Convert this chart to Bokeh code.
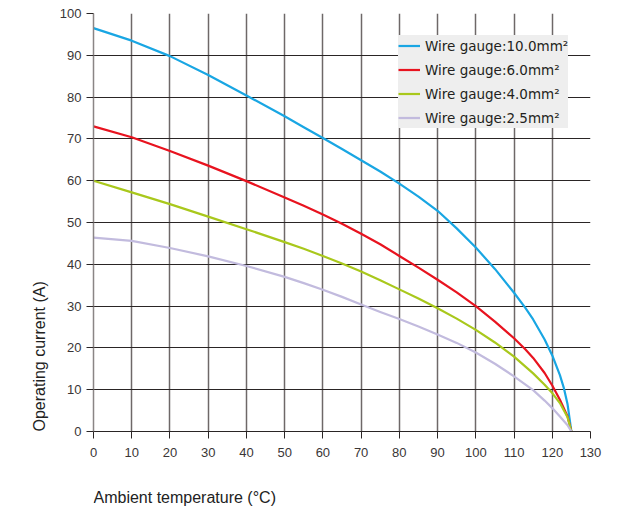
from bokeh.plotting import figure
from bokeh.models import Range1d, FixedTicker, Legend, LegendItem, Title, Label
from bokeh.layouts import column
from bokeh.embed import file_html
from bokeh.resources import INLINE

# Data
temp_10 = [0, 10, 20, 30, 40, 50, 55, 60, 65, 70, 75, 80, 85, 90, 95, 100, 105, 110, 113, 115, 118, 120, 122, 123, 124, 125]
cur_10 = [96.5, 93.5, 89.8, 85.3, 80.4, 75.4, 72.8, 70.2, 67.6, 64.9, 62.2, 59.3, 56.2, 52.8, 48.6, 44.0, 38.9, 33.2, 29.5, 26.8, 22.0, 18.2, 13.5, 10.5, 6.5, 0.0]

temp_6 = [0, 10, 20, 30, 40, 50, 55, 60, 65, 70, 75, 80, 85, 90, 95, 100, 105, 110, 113, 115, 118, 120, 122, 124, 125]
cur_6 = [73.0, 70.4, 67.1, 63.6, 59.9, 56.0, 54.0, 51.9, 49.7, 47.3, 44.8, 42.0, 39.2, 36.3, 33.3, 30.0, 26.3, 22.3, 19.6, 17.6, 14.0, 11.0, 7.6, 3.6, 0.0]

temp_4 = [0, 10, 20, 30, 40, 50, 55, 60, 65, 70, 75, 80, 85, 90, 95, 100, 105, 110, 115, 118, 120, 122, 124, 125]
cur_4 = [60.0, 57.2, 54.4, 51.4, 48.4, 45.3, 43.7, 42.0, 40.2, 38.3, 36.2, 34.0, 31.8, 29.5, 27.0, 24.3, 21.3, 17.9, 13.9, 11.2, 9.2, 6.8, 3.4, 0.0]

temp_25 = [0, 10, 20, 30, 40, 50, 55, 60, 65, 70, 75, 80, 85, 90, 95, 100, 105, 110, 115, 118, 120, 122, 124, 125]
cur_25 = [46.4, 45.6, 43.9, 41.9, 39.6, 37.0, 35.5, 33.9, 32.2, 30.4, 28.6, 26.9, 25.1, 23.2, 21.2, 18.9, 16.2, 13.2, 9.9, 7.4, 5.6, 3.6, 1.5, 0.0]

labels = ["Wire gauge:10.0mm\u00b2", "Wire gauge:6.0mm\u00b2",
          "Wire gauge:4.0mm\u00b2", "Wire gauge:2.5mm\u00b2"]
colors = ["#19a6e3", "#e8131f", "#a9c81c", "#c2bbde"]

x_ticks = list(range(0, 131, 10))
y_ticks = list(range(0, 101, 10))

x_title = "Ambient temperature (\u00b0C)"
y_title = "Operating current (A)"

FONT = "Liberation Sans"
TXT = "#3a3636"

W = 628
H_MAIN = 472
H_FOOT = 38

p = figure(width=W, height=H_MAIN, output_backend="svg", toolbar_location=None,
           x_range=Range1d(0, 130), y_range=Range1d(0, 100),
           min_border_left=93, min_border_right=W - 590, min_border_top=13,
           min_border_bottom=H_MAIN - 431)

p.outline_line_color = None
p.background_fill_color = "white"

# grids
p.xgrid.ticker = FixedTicker(ticks=x_ticks)
p.ygrid.ticker = FixedTicker(ticks=y_ticks)
p.xgrid.grid_line_color = "#6e6868"
p.xgrid.grid_line_width = 1.5
p.ygrid.grid_line_color = "#2a2525"
p.ygrid.grid_line_width = 1.0

# axes
p.xaxis.ticker = FixedTicker(ticks=x_ticks)
p.yaxis.ticker = FixedTicker(ticks=y_ticks)
for ax in (p.xaxis, p.yaxis):
    ax.major_label_text_font = FONT
    ax.major_label_text_font_size = "13px"
    ax.major_label_text_color = TXT
    ax.major_tick_in = 0
    ax.major_tick_out = 7
    ax.major_tick_line_color = "#2a2525"
    ax.minor_tick_line_color = None
p.xaxis.axis_line_color = "#2a2525"
p.yaxis.axis_line_color = "#8a8585"
p.yaxis.axis_line_width = 1.5
p.xaxis.major_label_standoff = 9
p.yaxis.major_label_standoff = 5

yt = Title(text=y_title, align="left", text_font=FONT,
           text_font_size="16px", text_font_style="normal", text_color="#222222",
           standoff=17)
p.add_layout(yt, "left")

# curves
series = [(temp_10, cur_10), (temp_6, cur_6), (temp_4, cur_4), (temp_25, cur_25)]
renderers = []
for (xs, ys), c in zip(series, colors):
    r = p.line(xs, ys, line_color=c, line_width=2.2, line_join="round")
    renderers.append(r)

legend = Legend(items=[LegendItem(label=l, renderers=[r]) for l, r in zip(labels, renderers)],
                location=(305, 303))
legend.background_fill_color = "#eeeeee"
legend.background_fill_alpha = 1.0
legend.border_line_color = None
legend.label_text_font = "DejaVu Sans"
legend.label_text_font_size = "13.5px"
legend.label_text_color = "#231f20"
legend.glyph_width = 22
legend.glyph_height = 21
legend.label_height = 21
legend.spacing = 3
legend.padding = 13
legend.margin = 0
legend.label_standoff = 5
p.add_layout(legend)

# footer strip carrying the left-aligned x-axis title (its frame aligns with the main frame)
foot = figure(width=W, height=H_FOOT, output_backend="svg", toolbar_location=None,
              x_range=Range1d(0, 130), y_range=Range1d(0, H_FOOT),
              x_axis_location=None, y_axis_location=None,
              min_border=0)
foot.outline_line_color = None
foot.grid.visible = False
foot.add_layout(Label(x=0, y=H_FOOT - (497 - H_MAIN), text=x_title,
                      text_font=FONT, text_font_size="16px", text_color="#222222",
                      text_align="left", text_baseline="middle"))

layout = column(p, foot, spacing=0)
open("out.html", "w").write(file_html(layout, INLINE))
